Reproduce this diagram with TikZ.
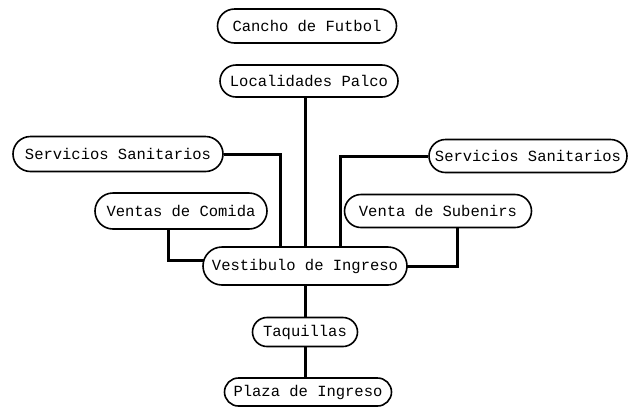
\documentclass[tikz,border=0pt]{standalone}
\usepackage{fontspec}
\setmonofont{Liberation Mono}
\usetikzlibrary{shapes.misc,backgrounds}
\tikzset{
  place/.style={draw=black, line width=1.6pt, rounded rectangle, fill=white,
    font=\ttfamily\fontsize{15.5}{16}\selectfont, inner sep=0pt, anchor=center},
  link/.style={draw=black, line width=3pt}
}
\begin{document}
\begin{tikzpicture}[x=1pt,y=-1pt]
\useasboundingbox (0,0) rectangle (631,408);
\node[place, minimum width=179pt, minimum height=34pt] (cancha) at (307,26) {Cancho de Futbol};
\node[place, minimum width=178pt, minimum height=32pt] (palco) at (309,81) {Localidades Palco};
\node[place, minimum width=210pt, minimum height=35pt] (ssl) at (118,154) {Servicios Sanitarios};
\node[place, minimum width=172pt, minimum height=36pt] (comida) at (181,211) {Ventas de Comida};
\node[place, minimum width=204pt, minimum height=38pt] (vest) at (305,266) {Vestibulo de Ingreso};
\node[place, minimum width=198pt, minimum height=33pt] (ssr) at (528,156) {Servicios Sanitarios};
\node[place, minimum width=187pt, minimum height=33pt] (sub) at (438,211) {Venta de Subenirs};
\node[place, minimum width=105pt, minimum height=29pt] (taq) at (305,332) {Taquillas};
\node[place, minimum width=167pt, minimum height=28pt] (plaza) at (308,392) {Plaza de Ingreso};
\begin{scope}[on background layer]
\draw[link] (palco.south -| vest.north) -- (vest.north);
\draw[link] (ssl.east) -| ([xshift=-25pt]vest.center);
\draw[link] (ssr.west) -| ([xshift=35pt]vest.center);
\draw[link] ([xshift=-13pt]comida.center) |- ([yshift=6pt]vest.center);
\draw[link] ([xshift=19pt]sub.center) |- (vest.center);
\draw[link] (vest.south) -- (taq.north);
\draw[link] (taq.south) -- (plaza.north -| taq.south);
\end{scope}
\end{tikzpicture}
\end{document}
